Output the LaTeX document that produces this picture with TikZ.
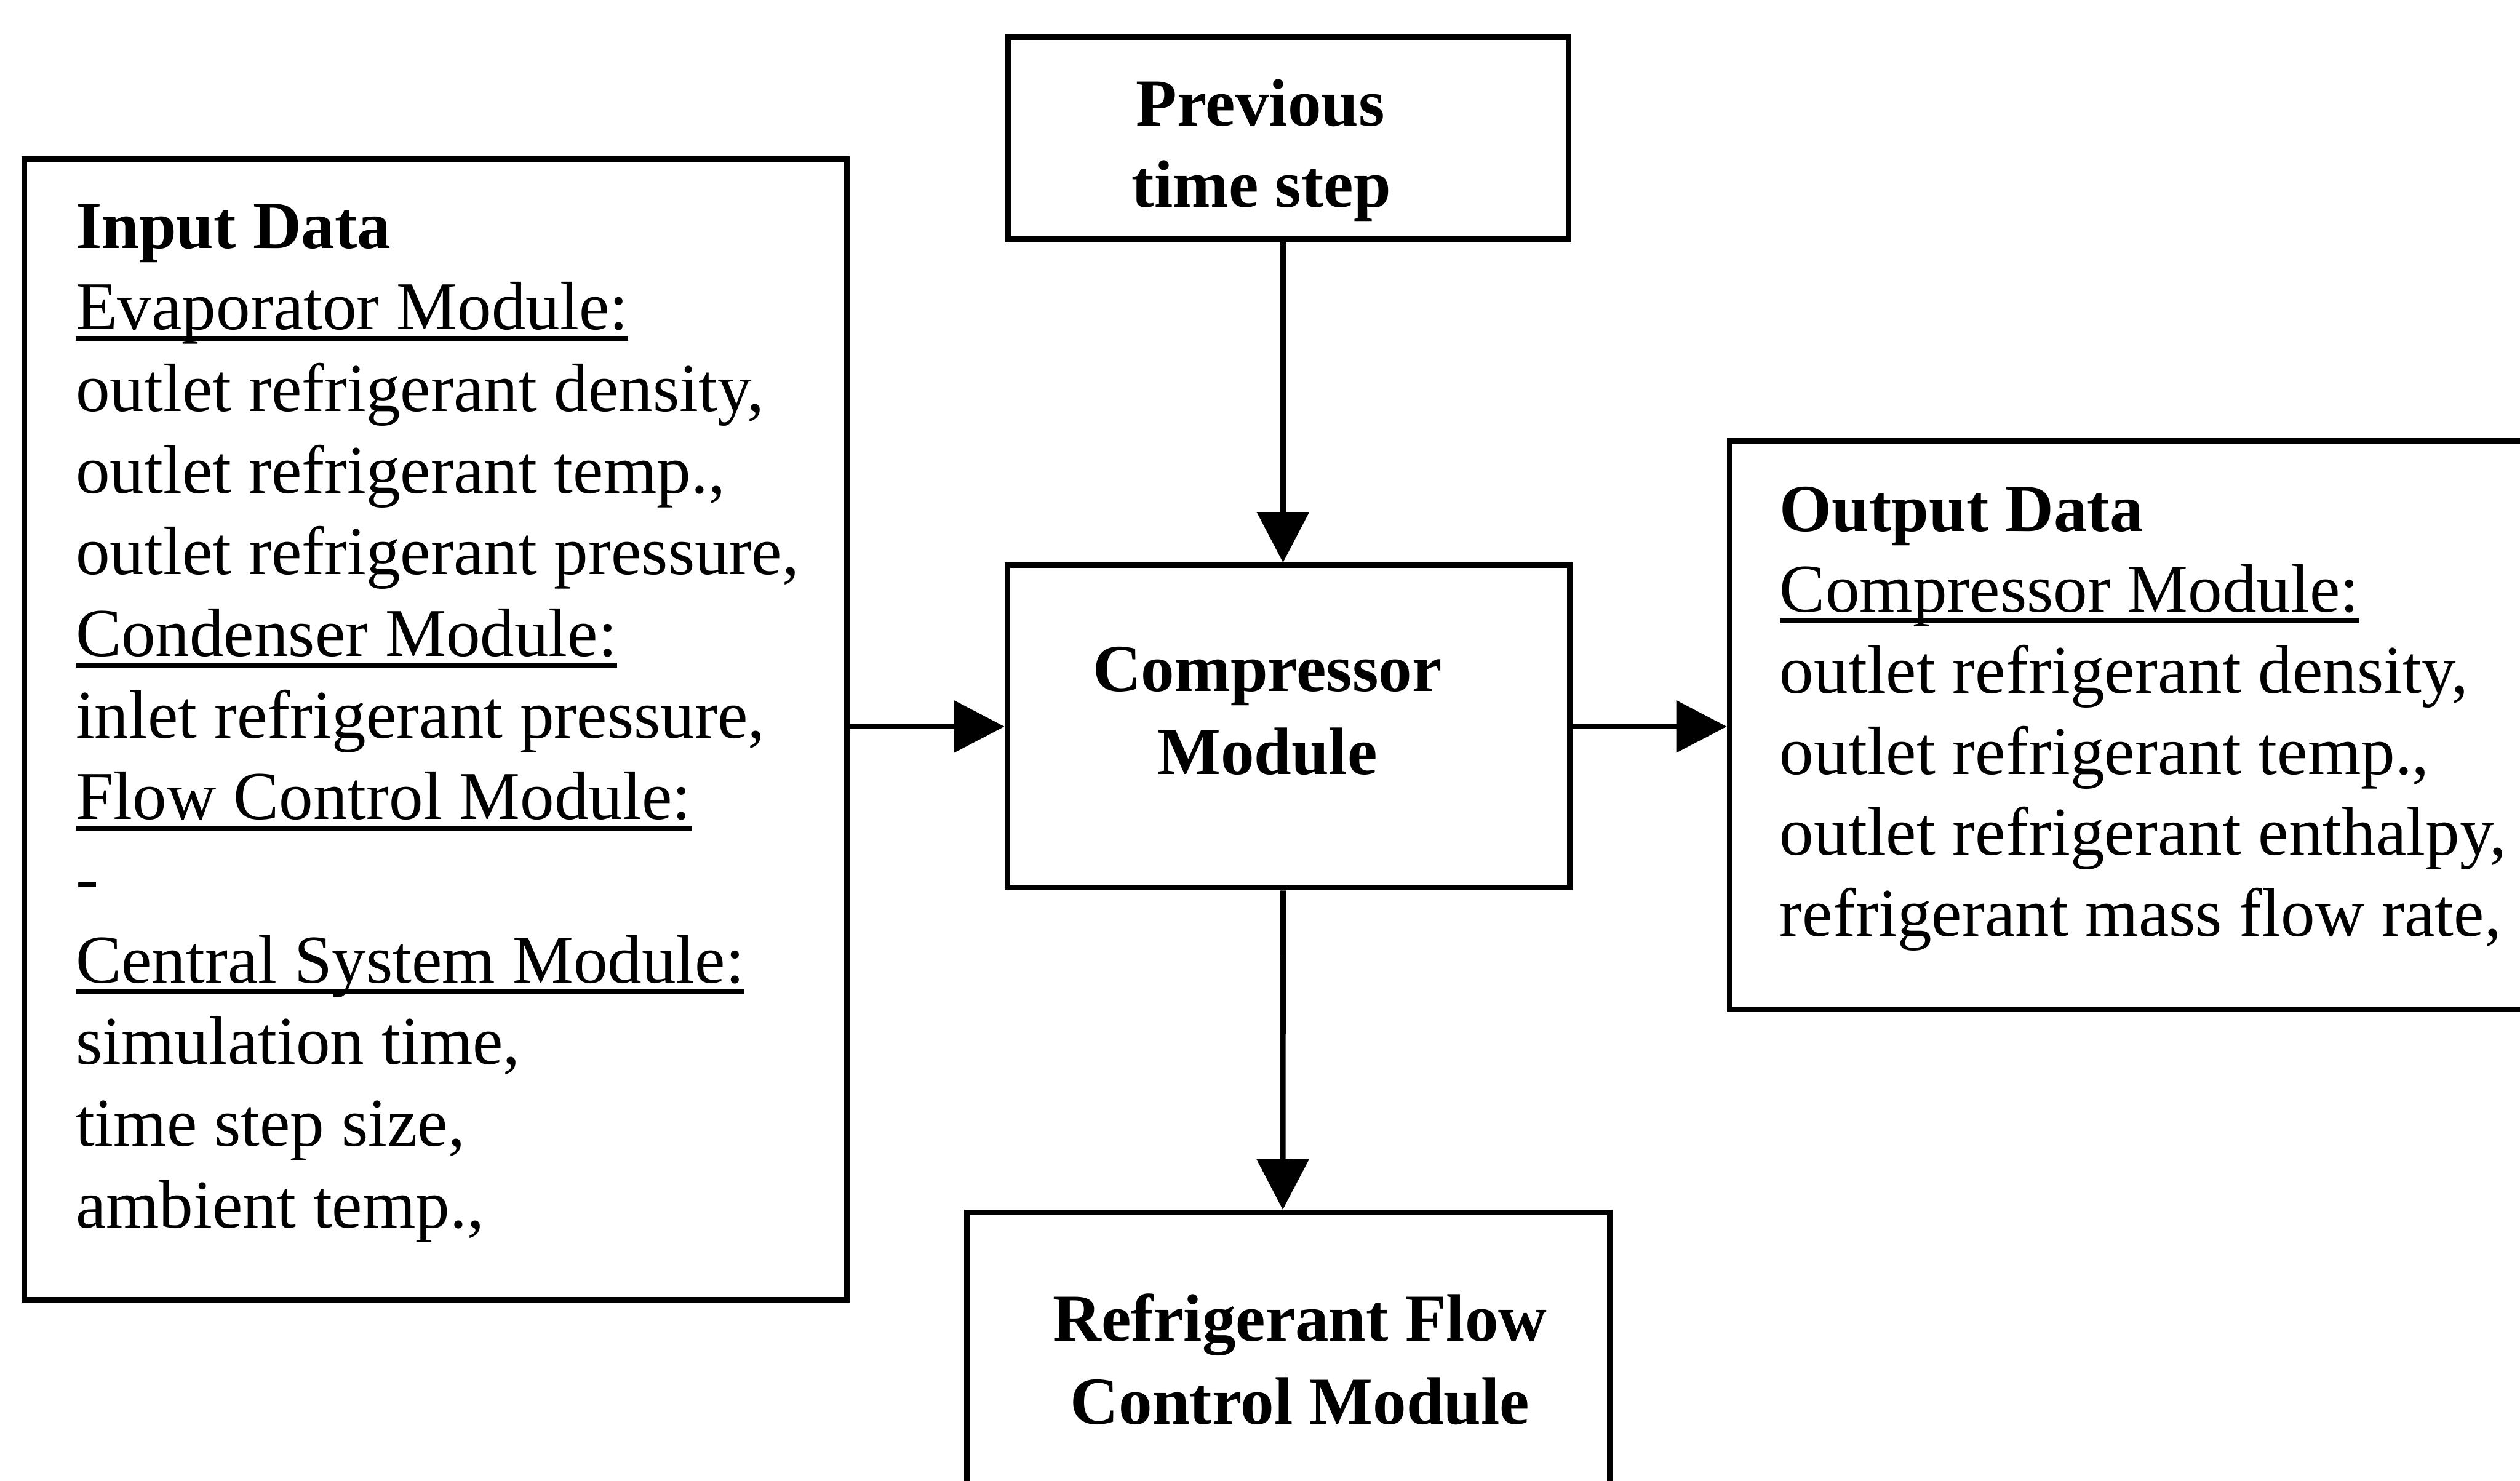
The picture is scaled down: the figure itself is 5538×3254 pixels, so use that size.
\documentclass[tikz,border=0pt]{standalone}
\usepackage{fontspec}
\setmainfont{Liberation Serif}
\usetikzlibrary{arrows.meta,calc}
\newcommand\ulin[1]{\setbox0\hbox{#1}\rlap{\rule[-3.55pt]{\wd0}{1.55pt}}\box0}
\begin{document}
\begin{tikzpicture}[x=0.005cm,y=-0.005cm,
  box/.style={draw, line width=1.75pt, rectangle, inner sep=0pt},
  arr/.style={line width=1.75pt, -{Triangle[length=15.8pt,width=16pt]}},
  txt/.style={inner sep=0pt, font=\fontsize{21.4}{25.5}\selectfont},
  btxt/.style={inner sep=0pt, font=\fontsize{21}{25.5}\selectfont\bfseries}]
\path[use as bounding box, clip] (0,0) rectangle (5538,3254);

% boxes
\node[box, minimum width=9.05cm, minimum height=12.54cm] (input) at (957,1603) {};
\node[box, minimum width=6.165cm, minimum height=2.215cm] (prev) at (2831.5,303.5) {};
\node[box, minimum width=6.185cm, minimum height=3.545cm] (comp) at (2831.5,1596.5) {};
\node[box, minimum width=9.5cm, minimum height=6.25cm] (out) at (4750,1593) {};
\node[box, minimum width=7.07cm, minimum height=3.68cm] (refr) at (2831,3032) {};

% connectors
\draw[arr] ($(prev.south)+(-12,0)$) -- ($(comp.north)+(-12,0)$);
\draw[arr] (comp.west -| input.east) -- (comp.west);
\draw[arr] (comp.east) -- (comp.east -| out.west);
\draw[arr] ($(comp.south)+(-12,0)$) -- ($(refr.north)+(-12,0)$);

% input text
\node[btxt, anchor=base west] (in0) at (165,545) {Input Data};
\node[txt, anchor=base west] (in1) at (165,724.4) {\ulin{Evaporator Module:}};
\node[txt, anchor=base west] (in2) at (165,903.8) {outlet refrigerant density,};
\node[txt, anchor=base west] (in3) at (165,1083.2) {outlet refrigerant temp.,};
\node[txt, anchor=base west] (in4) at (165,1262.6) {outlet refrigerant pressure,};
\node[txt, anchor=base west] (in5) at (165,1442) {\ulin{Condenser Module:}};
\node[txt, anchor=base west] (in6) at (165,1621.4) {inlet refrigerant pressure,};
\node[txt, anchor=base west] (in7) at (165,1800.8) {\ulin{Flow Control Module:}};
\node[txt, anchor=base west] (in8) at (165,1980.2) {-};
\node[txt, anchor=base west] (in9) at (165,2159.6) {\ulin{Central System Module:}};
\node[txt, anchor=base west] (in10) at (165,2339) {simulation time,};
\node[txt, anchor=base west] (in11) at (165,2518.4) {time step size,};
\node[txt, anchor=base west] (in12) at (165,2697.8) {ambient temp.,};

% output text
\node[btxt, anchor=base west] (o0) at (3910,1167) {Output Data};
\node[txt, anchor=base west] (o1) at (3910,1345) {\ulin{Compressor Module:}};
\node[txt, anchor=base west] (o2) at (3910,1523) {outlet refrigerant density,};
\node[txt, anchor=base west] (o3) at (3910,1701) {outlet refrigerant temp.,};
\node[txt, anchor=base west] (o4) at (3910,1879) {outlet refrigerant enthalpy,};
\node[txt, anchor=base west] (o5) at (3910,2057) {refrigerant mass flow rate,};

% module labels
\node[btxt, anchor=base] (p0) at (2770,276) {Previous};
\node[btxt, anchor=base] (p1) at (2772,455) {time step};
\node[btxt, anchor=base] (c0) at (2785,1519) {Compressor};
\node[btxt, anchor=base] (c1) at (2785,1702) {Module};
\node[btxt, anchor=base] (r0) at (2857,2947) {Refrigerant Flow};
\node[btxt, anchor=base] (r1) at (2857,3129) {Control Module};
\end{tikzpicture}
\end{document}
